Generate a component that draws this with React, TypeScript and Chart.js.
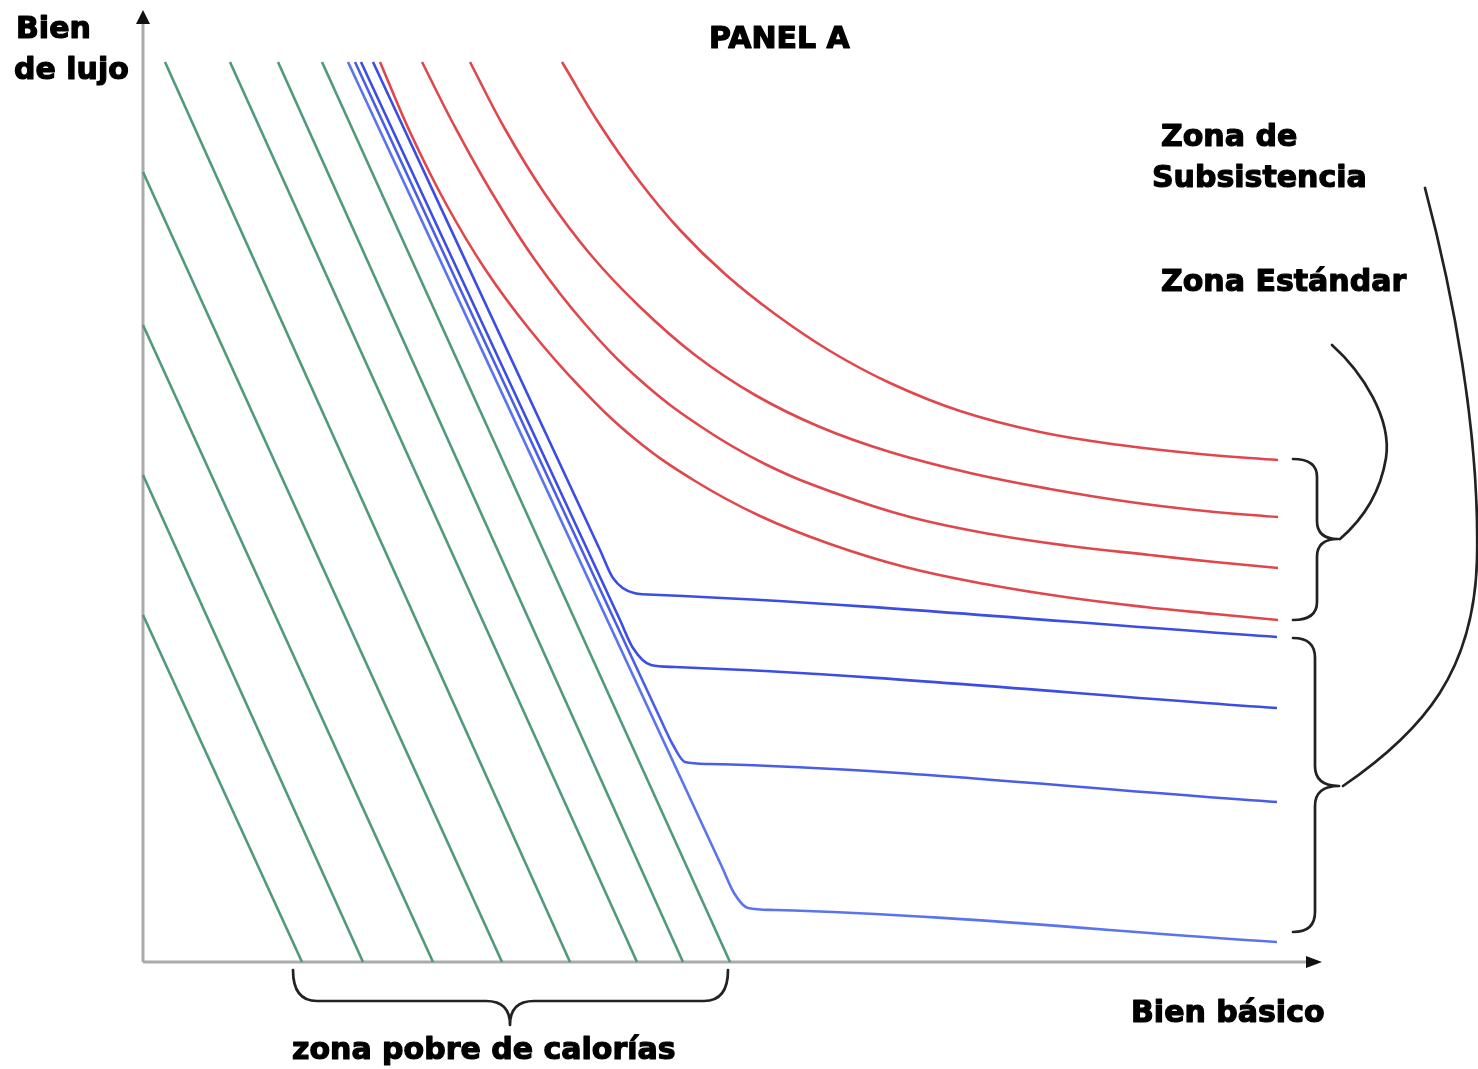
import React, { useEffect, useRef } from "react";
import { Chart, registerables } from "chart.js";

Chart.register(...registerables);

// Axis ranges (Bien básico on x, Bien de lujo on y)
const X_MAX = 117.9;
const Y_MAX = 95.2;

// Green budget lines: zona pobre de calorías
const green1 = [[0, 34.7], [15.9, 0]];
const green2 = [[0, 48.7], [22.0, 0]];
const green3 = [[0, 63.7], [29.0, 0]];
const green4 = [[0, 79.0], [35.9, 0]];
const green5 = [[2.2, 90], [42.7, 0]];
const green6 = [[8.7, 90], [49.4, 0]];
const green7 = [[13.5, 90], [54.0, 0]];
const green8 = [[17.9, 90], [58.7, 0]];

// Blue kinked curves: zona de subsistencia
const blue1 = [[23.0, 90], [45.7, 41.2], [47.0, 38.4], [49.1, 36.9], [51.7, 36.7], [113.4, 32.5]];
const blue2 = [[21.8, 90], [47.7, 34.2], [49.0, 31.4], [50.8, 29.7], [53.2, 29.5], [113.4, 25.4]];
const blue3 = [[21.2, 90], [51.7, 24.4], [53.0, 21.7], [54.2, 20.0], [56.7, 19.8], [113.4, 16.0]];
const blue4 = [[20.5, 90], [57.9, 9.5], [59.1, 6.9], [60.5, 5.4], [63.2, 5.2], [113.4, 2.0]];

// Red curves: zona estándar
const redA = [[41.9, 90], [45.7, 83.7], [49.7, 78.0], [53.7, 73.2], [58.2, 68.8], [63.2, 64.8], [68.7, 61.1], [74.7, 57.9], [81.7, 55.1], [89.7, 53.0], [97.7, 51.7], [105.7, 50.8], [113.5, 50.2]];
const redB = [[32.7, 90], [36.2, 83.3], [40.2, 76.8], [44.7, 70.8], [49.7, 65.5], [55.2, 60.7], [61.2, 56.7], [67.7, 53.5], [74.7, 51.0], [82.7, 48.9], [90.7, 47.3], [98.7, 46.0], [106.2, 45.1], [113.5, 44.5]];
const redC = [[27.9, 90], [31.2, 83.5], [34.9, 76.9], [39.2, 70.2], [44.2, 63.8], [49.7, 58.2], [55.7, 53.6], [62.2, 49.8], [69.2, 46.9], [76.7, 44.5], [84.7, 42.8], [92.7, 41.6], [100.7, 40.7], [107.2, 40.0], [113.5, 39.4]];
const redD = [[23.7, 90], [26.7, 83.0], [30.2, 76.0], [34.2, 69.3], [38.7, 63.2], [43.7, 57.5], [49.2, 52.3], [55.2, 48.1], [61.7, 44.6], [68.7, 41.8], [76.2, 39.5], [84.2, 37.8], [92.2, 36.5], [100.2, 35.5], [107.2, 34.8], [113.5, 34.2]];

// Labels
const panelTitle = "PANEL A";
const yLabel = ["Bien", "de lujo"];
const xLabel = "Bien básico";
const poorLabel = "zona pobre de calorías";
const subsLabel = ["Zona de", "Subsistencia"];
const stdLabel = "Zona Estándar";

const GREEN = "#4f9a78";
const RED = "#e0474c";
const BLUE = "#3b4de2";

function ds(pts: number[][], color: string, tension: number, mono: boolean) {
  return {
    data: pts.map(([x, y]) => ({ x, y })),
    borderColor: color,
    borderWidth: 2.6,
    pointRadius: 0,
    pointHoverRadius: 0,
    fill: false,
    tension,
    cubicInterpolationMode: mono ? "monotone" : "default",
    clip: false,
  };
}

function vBrace(ctx: CanvasRenderingContext2D, x0: number, y1: number, y2: number, xm: number, xt: number, ym: number, r: number) {
  ctx.beginPath();
  ctx.moveTo(x0, y1);
  ctx.quadraticCurveTo(xm, y1, xm, y1 + r);
  ctx.lineTo(xm, ym - r);
  ctx.quadraticCurveTo(xm, ym, xt, ym);
  ctx.quadraticCurveTo(xm, ym, xm, ym + r);
  ctx.lineTo(xm, y2 - r);
  ctx.quadraticCurveTo(xm, y2, x0, y2);
  ctx.stroke();
}

function hBrace(ctx: CanvasRenderingContext2D, y0: number, x1: number, x2: number, ym: number, yt: number, xm: number, r: number) {
  ctx.beginPath();
  ctx.moveTo(x1, y0);
  ctx.quadraticCurveTo(x1, ym, x1 + r, ym);
  ctx.lineTo(xm - r, ym);
  ctx.quadraticCurveTo(xm, ym, xm, yt);
  ctx.quadraticCurveTo(xm, ym, xm + r, ym);
  ctx.lineTo(x2 - r, ym);
  ctx.quadraticCurveTo(x2, ym, x2, y0);
  ctx.stroke();
}

function label(ctx: CanvasRenderingContext2D, t: string, x: number, y: number) {
  ctx.fillText(t, x, y);
  ctx.strokeText(t, x, y);
}

const decor = {
  id: "decor",
  beforeDatasetsDraw(chart: any) {
    const ctx: CanvasRenderingContext2D = chart.ctx;
    const xs = chart.scales.x;
    const ys = chart.scales.y;
    const ox = xs.getPixelForValue(0);
    const oy = ys.getPixelForValue(0);
    const top = ys.getPixelForValue(Y_MAX);
    const right = xs.getPixelForValue(X_MAX);
    ctx.save();
    ctx.strokeStyle = "#ababab";
    ctx.lineWidth = 3;
    ctx.beginPath();
    ctx.moveTo(ox, oy);
    ctx.lineTo(ox, top + 12);
    ctx.moveTo(ox, oy);
    ctx.lineTo(right - 14, oy);
    ctx.stroke();
    ctx.fillStyle = "#111";
    ctx.beginPath();
    ctx.moveTo(ox, top);
    ctx.lineTo(ox - 7, top + 14);
    ctx.lineTo(ox + 7, top + 14);
    ctx.closePath();
    ctx.fill();
    ctx.beginPath();
    ctx.moveTo(right, oy);
    ctx.lineTo(right - 16, oy - 6);
    ctx.lineTo(right - 16, oy + 6);
    ctx.closePath();
    ctx.fill();
    ctx.restore();
  },
  afterDatasetsDraw(chart: any) {
    const ctx: CanvasRenderingContext2D = chart.ctx;
    ctx.save();
    ctx.lineCap = "round";
    ctx.lineJoin = "round";
    ctx.strokeStyle = "#222";
    ctx.lineWidth = 2.7;
    vBrace(ctx, 1293, 459, 620, 1317, 1338, 539, 18);
    vBrace(ctx, 1293, 638, 932, 1315, 1339, 786, 20);
    hBrace(ctx, 970, 293, 728, 1001, 1025, 510, 24);
    // connector to "Zona Estándar"
    ctx.beginPath();
    ctx.moveTo(1332, 345);
    ctx.bezierCurveTo(1362, 372, 1392, 418, 1386, 458);
    ctx.bezierCurveTo(1380, 495, 1362, 520, 1340, 539);
    ctx.stroke();
    // connector to "Zona de Subsistencia"
    ctx.beginPath();
    ctx.moveTo(1425, 188);
    ctx.bezierCurveTo(1452, 290, 1480, 430, 1477, 560);
    ctx.bezierCurveTo(1474, 670, 1425, 730, 1343, 786);
    ctx.stroke();

    ctx.fillStyle = "#000";
    ctx.strokeStyle = "#000";
    ctx.lineWidth = 1.2;
    ctx.font = 'bold 30px "DejaVu Sans"';
    ctx.textBaseline = "alphabetic";
    ctx.textAlign = "left";
    label(ctx, yLabel[0], 16, 38);
    label(ctx, yLabel[1], 14, 79);
    label(ctx, panelTitle, 709, 48);
    label(ctx, subsLabel[0], 1161, 146);
    label(ctx, subsLabel[1], 1152, 187);
    label(ctx, stdLabel, 1161, 291);
    label(ctx, xLabel, 1131, 1022);
    label(ctx, poorLabel, 292, 1059);
    ctx.restore();
  },
};

export default function App() {
  const ref = useRef<HTMLCanvasElement | null>(null);
  useEffect(() => {
    if (!ref.current) return;
    const chart = new Chart(ref.current, {
      type: "line",
      data: {
        datasets: [
          ds(green1, GREEN, 0, false),
          ds(green2, GREEN, 0, false),
          ds(green3, GREEN, 0, false),
          ds(green4, GREEN, 0, false),
          ds(green5, GREEN, 0, false),
          ds(green6, GREEN, 0, false),
          ds(green7, GREEN, 0, false),
          ds(green8, GREEN, 0, false),
          ds(redA, RED, 0.4, false),
          ds(redB, RED, 0.4, false),
          ds(redC, RED, 0.4, false),
          ds(redD, RED, 0.4, false),
          ds(blue4, "#5a74ee", 0, true),
          ds(blue3, "#4a5de6", 0, true),
          ds(blue2, BLUE, 0, true),
          ds(blue1, BLUE, 0, true),
        ] as any,
      },
      options: {
        animation: false,
        responsive: false,
        events: [],
        layout: { padding: { left: 143, right: 156, top: 10, bottom: 107 } },
        plugins: { legend: { display: false }, tooltip: { enabled: false }, title: { display: false } },
        scales: {
          x: { type: "linear", min: 0, max: X_MAX, display: false },
          y: { type: "linear", min: 0, max: Y_MAX, display: false },
        },
      },
      plugins: [decor],
    });
    return () => chart.destroy();
  }, []);
  return (
    <div style={{ position: "fixed", left: 0, top: 0, width: 1478, height: 1069, background: "#fff" }}>
      <canvas ref={ref} width={1478} height={1069} style={{ display: "block", width: 1478, height: 1069 }} />
    </div>
  );
}
